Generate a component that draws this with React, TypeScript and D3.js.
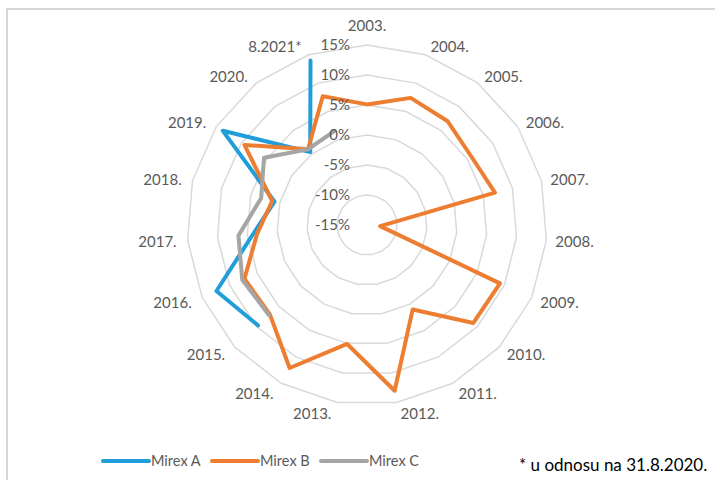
import React from 'react';
import * as d3 from 'd3';

const categories = ['2003.', '2004.', '2005.', '2006.', '2007.', '2008.', '2009.', '2010.', '2011.', '2012.', '2013.', '2014.', '2015.', '2016.', '2017.', '2018.', '2019.', '2020.', '8.2021*'];
const mirexA: (number | null)[] = [null, null, null, null, null, null, null, null, null, null, null, null, 9.7, 12.4, 4.1, 0.9, 13.7, 0.4, 14.0];
const mirexB: (number | null)[] = [5.1, 7.4, 6.9, 5.8, 7.0, -12.8, 9.2, 9.1, 1.0, 13.0, 5.1, 12.1, 7.0, 7.3, 3.4, 1.3, 9.4, 1.0, 7.7];
const mirexC: (number | null)[] = [null, null, null, null, null, null, null, null, null, null, null, null, 7.2, 7.7, 6.5, 3.2, 5.5, 1.0, 1.6];
const seriesNames = ['Mirex A', 'Mirex B', 'Mirex C'];
const tickValues = [-15, -10, -5, 0, 5, 10, 15];
const footnote = '* u odnosu na 31.8.2020.';

const W = 715;
const H = 480;
const cx = 367;
const cy = 225;
const R = 180;
const colors = ['#219ed9', '#ed7d31', '#a5a5a5'];
const FONT = 'Lato, "Open Sans", sans-serif';

export default function App() {
  const n = categories.length;
  const r = d3.scaleLinear().domain([-15, 15]).range([0, R]);
  const angle = (i: number) => (i * 2 * Math.PI) / n;

  const ringLine = d3
    .lineRadial<number>()
    .angle((_, i) => angle(i))
    .curve(d3.curveLinearClosed);

  const allSeries = [mirexA, mirexB, mirexC];

  const seriesPath = (vals: (number | null)[]) => {
    const complete = vals.every((v) => v !== null);
    const idx = vals.map((v, i) => ({ v, i })).filter((d) => d.v !== null) as { v: number; i: number }[];
    const gen = d3
      .lineRadial<{ v: number; i: number }>()
      .angle((d) => angle(d.i))
      .radius((d) => r(d.v))
      .curve(complete ? d3.curveLinearClosed : d3.curveLinear);
    return gen(idx) || '';
  };

  const legendX = [103, 212, 321];

  return (
    <svg width={W} height={H} style={{ position: 'absolute', left: 0, top: 0, background: '#fff' }}>
      <rect x={0} y={0} width={W} height={H} fill="#fff" />
      <line x1={6} y1={9} x2={W} y2={9} stroke="#d6d6d6" strokeWidth={2} />
      <line x1={7} y1={9} x2={7} y2={H} stroke="#d6d6d6" strokeWidth={2} />
      <g transform={`translate(${cx},${cy})`}>
        {tickValues
          .filter((t) => t > -15)
          .map((t) => (
            <path
              key={t}
              d={ringLine.radius(() => r(t))(categories.map(() => 0)) || ''}
              fill="none"
              stroke="#d9d9d9"
              strokeWidth={1.5}
            />
          ))}
        {allSeries.map((vals, k) => (
          <path
            key={k}
            d={seriesPath(vals)}
            fill="none"
            stroke={colors[k]}
            strokeWidth={4}
            strokeLinejoin="round"
            strokeLinecap="round"
          />
        ))}
        {tickValues.map((t) => (
          <text
            key={t}
            x={-17}
            y={-r(t)}
            dy="0.35em"
            textAnchor="end"
            fontFamily={FONT}
            fontSize={15}
            fill="#595959"
          >
            {`${t}%`}
          </text>
        ))}
        {categories.map((c, i) => {
          const a = angle(i);
          const s = Math.sin(a);
          const co = Math.cos(a);
          const rr = R + 6;
          let x: number;
          let y: number;
          let anchor: string;
          if (Math.abs(s) < 1e-6) {
            x = 0;
            y = -rr - 13;
            anchor = 'middle';
          } else {
            x = rr * s + (s > 0 ? 3 : -5);
            y = -rr * co - 4 * co + 1.5;
            anchor = s > 0 ? 'start' : 'end';
          }
          return (
            <text key={c} x={x} y={y} dy="0.35em" textAnchor={anchor} fontFamily={FONT} fontSize={15} fill="#595959">
              {c}
            </text>
          );
        })}
      </g>
      {seriesNames.map((name, k) => (
        <g key={name} transform={`translate(${legendX[k]},461)`}>
          <line x1={0} y1={0} x2={46} y2={0} stroke={colors[k]} strokeWidth={4} strokeLinecap="round" />
          <text x={48} y={0} dy="0.35em" fontFamily={FONT} fontSize={14.5} fill="#595959">
            {name}
          </text>
        </g>
      ))}
      <text x={519} y={465} dy="0.35em" fontFamily={FONT} fontSize={17} fill="#000">
        {footnote}
      </text>
    </svg>
  );
}
